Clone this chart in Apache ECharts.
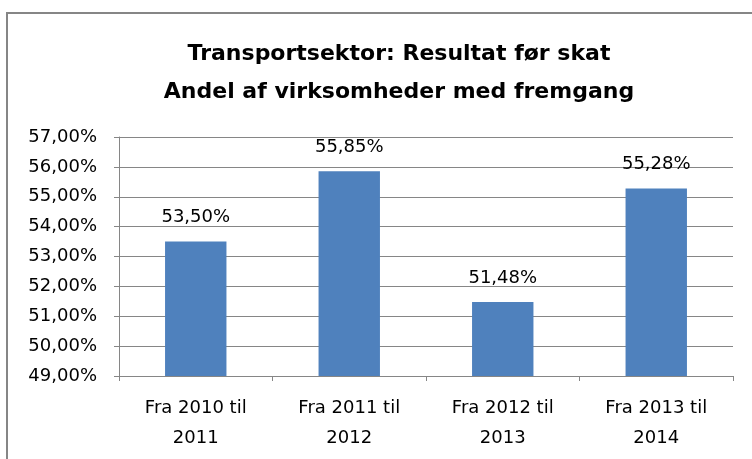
<!DOCTYPE html>
<html lang="da">
<head>
    <meta charset="utf-8">
    <title>Transportsektor: Resultat før skat</title>
    <style>
        html, body { margin: 0; padding: 0; background: #fff; }
        #chart { width: 752px; height: 459px; }
    </style>
</head>
<body>
    <div id="chart"></div>
    <script src="https://cdn.jsdelivr.net/npm/echarts@6/dist/echarts.min.js"></script>
    <script type="text/javascript">
        // data
        var categories = ["Fra 2010 til\n2011", "Fra 2011 til\n2012", "Fra 2012 til\n2013", "Fra 2013 til\n2014"];
        var shares = [53.50, 55.85, 51.48, 55.28];
        var titleLines = ["Transportsektor: Resultat før skat", "Andel af virksomheder med fremgang"];

        function pct(v) {
            return v.toFixed(2).replace(".", ",") + "%";
        }

        var gray = "#868686";
        var font = "'DejaVu Sans', 'Liberation Sans', sans-serif";

        var chart = echarts.init(document.getElementById("chart"));
        chart.setOption({
            backgroundColor: "#fff",
            animation: false,
            textStyle: { fontFamily: font, color: "#000" },
            title: {
                text: titleLines.join("\n"),
                left: 394,
                top: 30,
                textAlign: "center",
                textStyle: {
                    fontFamily: font,
                    fontSize: 22,
                    fontWeight: "bold",
                    color: "#000",
                    lineHeight: 38
                }
            },
            // chart frame (only top and left edges fall inside the picture)
            graphic: [{
                type: "rect",
                silent: true,
                shape: { x: 7, y: 13, width: 800, height: 500 },
                style: { fill: "none", stroke: gray, lineWidth: 2 }
            }],
            grid: { left: 119, right: 19, top: 137, bottom: 83 },
            xAxis: {
                type: "category",
                data: categories,
                axisLine: { lineStyle: { color: gray, width: 1 } },
                axisTick: { show: true, length: 5, lineStyle: { color: gray } },
                axisLabel: {
                    color: "#000",
                    fontFamily: font,
                    fontSize: 18,
                    lineHeight: 30,
                    margin: 17
                }
            },
            yAxis: {
                type: "value",
                min: 49,
                max: 57,
                interval: 1,
                axisLine: { show: true, lineStyle: { color: gray, width: 1 } },
                axisTick: { show: true, length: 5, lineStyle: { color: gray } },
                splitLine: { show: true, lineStyle: { color: gray, width: 1 } },
                axisLabel: {
                    color: "#000",
                    fontFamily: font,
                    fontSize: 18,
                    margin: 22,
                    formatter: pct
                }
            },
            series: [{
                type: "bar",
                data: shares,
                barCategoryGap: "60%",
                itemStyle: { color: "#4F81BD" },
                label: {
                    show: true,
                    position: "top",
                    distance: 15,
                    color: "#000",
                    fontFamily: font,
                    fontSize: 18,
                    formatter: function (p) { return pct(p.value); }
                }
            }]
        });
    </script>
</body>
</html>
